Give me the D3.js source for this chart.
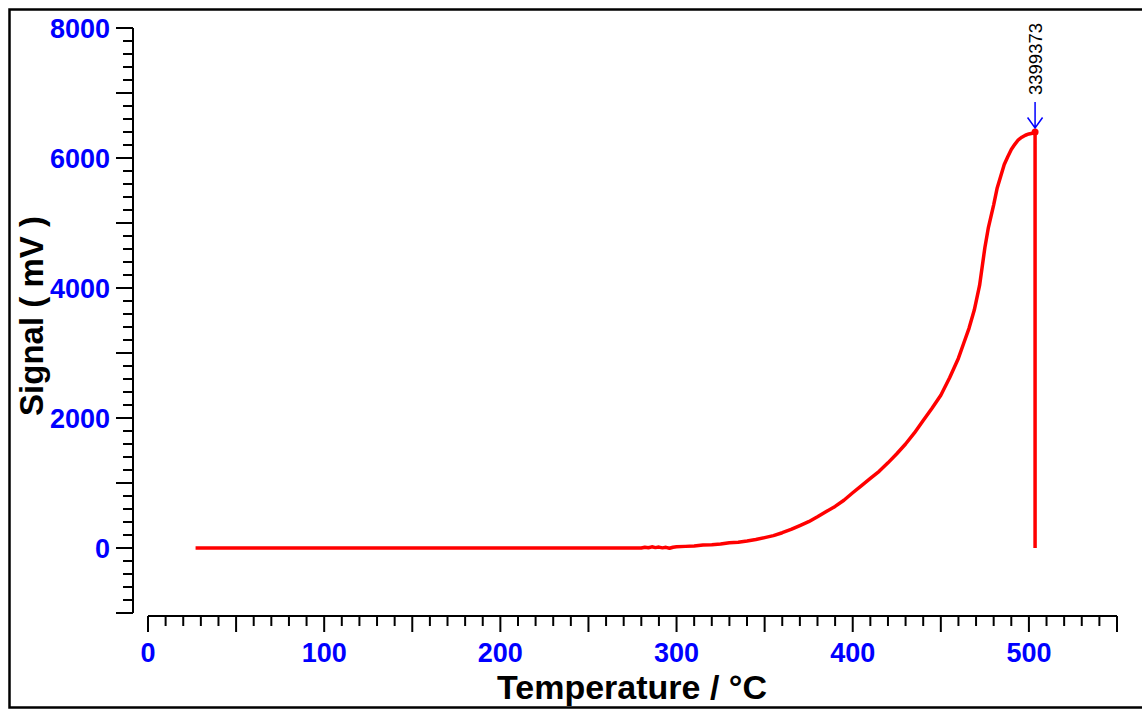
<!DOCTYPE html>
<html>
<head>
<meta charset="utf-8">
<script src="https://cdn.jsdelivr.net/npm/d3@7"></script>
<style>
    body { margin: 0; background: #fff; }
    svg { display: block; font-family: "Liberation Sans", Arial, sans-serif; }
</style>
</head>
<body>
<svg id="chart" width="1142" height="711"></svg>
<script>
// температура (°C) и сигнал (mV)
let temps = [27, 100, 200, 270, 280, 282, 284, 286, 288, 290, 292, 294, 296, 298, 300,
    305, 310, 315, 320, 325, 330, 335, 340, 345, 350, 355, 360, 365, 370, 375,
    380, 385, 390, 395, 400, 405, 410, 415, 420, 425, 430, 435, 440, 445, 450,
    455, 460, 463, 466, 469, 472, 475, 477, 480, 482, 484, 486, 488, 490, 492,
    494, 496, 498, 500, 502, 503.5, 503.5];
let signal = [0, 0, 0, 0, 0, 12, 4, 18, 6, 14, 2, 10, -4, 12, 20,
    25, 30, 46, 50, 60, 82, 90, 108, 130, 160, 190, 235, 285, 345, 405,
    480, 560, 640, 735, 850, 960, 1070, 1180, 1310, 1450, 1600, 1770, 1960, 2150, 2350,
    2620, 2920, 3150, 3380, 3660, 4040, 4620, 4930, 5280, 5540, 5720, 5900, 6020, 6130, 6210,
    6280, 6320, 6350, 6370, 6380, 6400, 0];
let peakT = 503.5;
let peakV = 6400;
let peakLabel = "3399373";

let xTicksMajor = [0, 100, 200, 300, 400, 500];
let yTicksMajor = [0, 2000, 4000, 6000, 8000];

let svg = d3.select("#chart");

// рамка
svg.append("rect")
    .attr("x", 9.5).attr("y", 9.5)
    .attr("width", 1140).attr("height", 698)
    .attr("fill", "none").attr("stroke", "#000").attr("stroke-width", 2.5);

// шкалы
let scaleX = d3.scaleLinear().domain([0, 550]).range([148, 1117]);
let scaleY = d3.scaleLinear().domain([-1000, 8000]).range([613, 28]);

// ось OY
let axisY = svg.append("g").attr("class", "y-axis");
axisY.append("line")
    .attr("x1", 133).attr("x2", 133)
    .attr("y1", scaleY(8000)).attr("y2", scaleY(-1000))
    .attr("stroke", "#000").attr("stroke-width", 2);
axisY.selectAll(".tick")
    .data(d3.range(-1000, 8001, 200))
    .enter()
    .append("line")
    .attr("x1", d => d % 1000 === 0 ? 116 : 123)
    .attr("x2", 133)
    .attr("y1", d => scaleY(d)).attr("y2", d => scaleY(d))
    .attr("stroke", "#000").attr("stroke-width", 2);
axisY.selectAll("text")
    .data(yTicksMajor)
    .enter()
    .append("text")
    .attr("x", 110)
    .attr("y", d => scaleY(d) + 9.5)
    .attr("text-anchor", "end")
    .attr("font-size", 27).attr("font-weight", "bold")
    .attr("fill", "#0000ff")
    .text(d => d);

// ось OX
let axisX = svg.append("g").attr("class", "x-axis");
axisX.append("line")
    .attr("x1", scaleX(0)).attr("x2", scaleX(550))
    .attr("y1", 616).attr("y2", 616)
    .attr("stroke", "#000").attr("stroke-width", 2);
axisX.selectAll(".tick")
    .data(d3.range(0, 551, 10))
    .enter()
    .append("line")
    .attr("x1", d => scaleX(d)).attr("x2", d => scaleX(d))
    .attr("y1", 616)
    .attr("y2", d => d % 50 === 0 ? 632 : 626)
    .attr("stroke", "#000").attr("stroke-width", 2);
axisX.selectAll("text")
    .data(xTicksMajor)
    .enter()
    .append("text")
    .attr("x", d => scaleX(d))
    .attr("y", 662)
    .attr("text-anchor", "middle")
    .attr("font-size", 27).attr("font-weight", "bold")
    .attr("fill", "#0000ff")
    .text(d => d);

// подписи осей
svg.append("text")
    .attr("x", 632).attr("y", 699)
    .attr("text-anchor", "middle")
    .attr("font-size", 34).attr("font-weight", "bold")
    .text("Temperature / °C");
svg.append("text")
    .attr("transform", "translate(43, 316) rotate(-90)")
    .attr("text-anchor", "middle")
    .attr("font-size", 33).attr("font-weight", "bold")
    .text("Signal ( mV )");

// кривая
let points = temps.map((t, i) => [t, signal[i]]);
let line = d3.line()
    .x(d => scaleX(d[0]))
    .y(d => scaleY(d[1]));
svg.append("path")
    .datum(points)
    .attr("d", line)
    .attr("fill", "none")
    .attr("stroke", "#ff0000")
    .attr("stroke-width", 3.5)
    .attr("stroke-linejoin", "round");
svg.append("circle")
    .attr("cx", scaleX(peakT)).attr("cy", scaleY(peakV))
    .attr("r", 3.5).attr("fill", "#ff0000");

// стрелка и подпись пика
let px = scaleX(peakT);
let py = scaleY(peakV) - 4;
svg.append("path")
    .attr("d", `M${px},${py - 26}L${px},${py}M${px - 7.5},${py - 10.5}L${px},${py}L${px + 7.5},${py - 10.5}`)
    .attr("fill", "none")
    .attr("stroke", "#0000ff")
    .attr("stroke-width", 1.5);
svg.append("text")
    .attr("transform", `translate(${px + 6.5}, ${py - 33}) rotate(-90)`)
    .attr("font-size", 18.5)
    .attr("fill", "#000")
    .text(peakLabel);
</script>
</body>
</html>
